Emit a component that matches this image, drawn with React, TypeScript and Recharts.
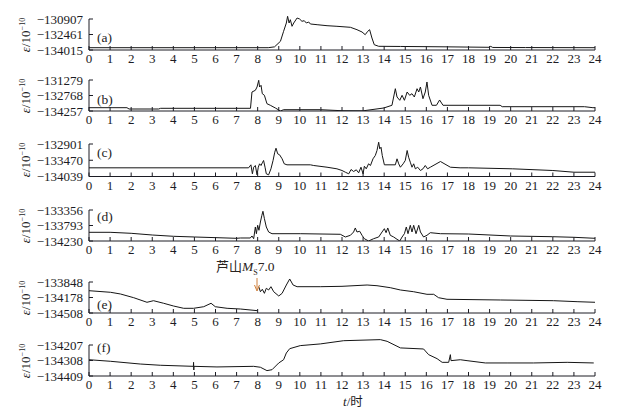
import { LineChart, Line, XAxis, YAxis, ReferenceLine } from "recharts";

const hours = Array.from({ length: 25 }, (_, i) => i);

// [hour, strain] pairs
const seriesA: [number, number][] = [
  [0, -133784], [8.5, -133784], [8.8, -133700], [9.08, -133143], [9.23, -132140],
  [9.36, -131308], [9.42, -130636], [9.49, -131308], [9.55, -130977], [9.63, -131639],
  [9.71, -131308], [9.87, -130807], [9.99, -130907], [10.1, -131138], [10.21, -131077],
  [10.31, -131308], [10.42, -131208], [10.5, -131408], [10.82, -131478], [11.29, -131579],
  [11.76, -131639], [12.4, -131739], [12.71, -131980], [12.95, -132210], [13.1, -132481],
  [13.22, -132140], [13.31, -131980], [13.42, -132812], [13.53, -133484], [13.74, -133644],
  [14.77, -133660], [16, -133680], [17, -133700], [19, -133744], [19.05, -133650],
  [19.15, -133760], [20.7, -133770], [24, -133784],
];

const seriesB: [number, number][] = [
  [0, -133940], [1.8, -133940], [1.9, -134065], [3.3, -134065], [3.4, -133998],
  [7.66, -133998], [7.73, -132432], [7.89, -132269], [7.97, -131952], [8.05, -131308],
  [8.09, -131952], [8.16, -131788], [8.22, -132595], [8.32, -132749], [8.44, -133556],
  [8.6, -133709], [8.84, -133969], [9.08, -134257], [9.23, -134132], [10.98, -134132],
  [12, -134230], [13, -134240], [13.98, -133969], [14.37, -133709], [14.53, -132115],
  [14.61, -132912], [14.74, -133229], [14.85, -132749], [14.96, -133229], [15.09, -132432],
  [15.21, -132749], [15.32, -132595], [15.43, -132912], [15.56, -132115], [15.64, -132432],
  [15.72, -131952], [15.84, -133075], [15.95, -132432], [16.03, -131471], [16.11, -132749],
  [16.27, -133709], [16.48, -133709], [16.63, -133200], [16.79, -133709], [19.5, -133709],
  [19.6, -133844], [23.5, -133844], [23.9, -133940], [24, -133940],
];

const seriesC: [number, number][] = [
  [0, -133735], [7.57, -133735], [7.68, -133630], [7.75, -133945], [7.81, -133714],
  [7.89, -133654], [7.97, -133980], [8.03, -133714], [8.09, -133595], [8.16, -133654],
  [8.22, -133560], [8.28, -133479], [8.35, -133714], [8.41, -133945], [8.52, -133980],
  [8.63, -133770], [8.73, -133479], [8.81, -133189], [8.87, -133049], [8.95, -133245],
  [9.04, -133280], [9.16, -133420], [9.26, -133595], [9.39, -133630], [10.5, -133630],
  [10.66, -133654], [11.29, -133714], [11.76, -133770], [12.0, -133829], [12.16, -133889],
  [12.32, -133945], [12.43, -133794], [12.55, -133864], [12.68, -133805], [12.79, -133910],
  [12.9, -133714], [13.0, -133945], [13.06, -133679], [13.15, -133770], [13.26, -133595],
  [13.35, -133654], [13.47, -133420], [13.58, -133304], [13.66, -133129], [13.74, -132839],
  [13.79, -133070], [13.85, -133014], [13.91, -133304], [14.01, -133630], [14.53, -133630],
  [14.61, -133420], [14.69, -133595], [14.77, -133714], [14.9, -133595], [15.0, -133479],
  [15.09, -133129], [15.16, -133364], [15.24, -133539], [15.32, -133714], [15.4, -133595],
  [15.48, -133770], [15.59, -133714], [15.72, -133829], [15.84, -133770], [15.95, -133654],
  [16.06, -133770], [16.19, -133714], [16.67, -133514], [17.14, -133714], [17.6, -133735],
  [18, -133735], [20.1, -133770], [22, -133829], [23, -133889], [24, -133889],
];

const seriesD: [number, number][] = [
  [0, -133985], [1, -133985], [2, -134013], [3, -134061], [4, -134097], [5, -134117],
  [7, -134154], [7.18, -134145], [7.65, -134145], [7.73, -134089], [7.81, -134165],
  [7.89, -133835], [7.94, -134024], [8.0, -133787], [8.06, -133928], [8.13, -133694],
  [8.2, -133505], [8.25, -133392], [8.32, -133601], [8.41, -133835], [8.52, -133976],
  [8.68, -134024], [10.02, -134024], [11.92, -134041], [12.16, -134117], [12.4, -134069],
  [12.55, -133976], [12.63, -133863], [12.71, -133976], [12.84, -133956], [12.95, -134069],
  [13.06, -134165], [13.26, -134230], [13.5, -134165], [13.74, -134117], [13.9, -133976],
  [14.01, -133883], [14.09, -133996], [14.17, -133863], [14.29, -134069], [14.45, -134117],
  [14.61, -134182], [14.74, -134230], [14.85, -134117], [14.96, -134024], [15.05, -133835],
  [15.13, -134024], [15.24, -133787], [15.32, -133976], [15.4, -133787], [15.51, -134024],
  [15.64, -133787], [15.72, -133976], [15.87, -134117], [16.03, -134069], [16.19, -133996],
  [16.67, -134024], [18, -134033], [20, -134089], [22, -134109], [23, -134126], [24, -134154],
];

const seriesE: [number, number | null][] = [
  [0, -134033], [1.02, -134067], [1.49, -134103], [2.12, -134182], [2.75, -134280],
  [3.06, -134246], [3.54, -134301], [4.01, -134359], [4.49, -134408], [4.96, -134408],
  [5.44, -134374], [5.79, -134301], [5.99, -134374], [6.55, -134408], [7.18, -134423],
  [8.0, -134459], [8.02, null], [8.05, -133948], [8.13, -134055], [8.22, -134003],
  [8.32, -134089], [8.41, -133982], [8.52, -134018], [8.63, -133948], [8.76, -134055],
  [9.0, -134146], [9.16, -134089], [9.36, -133912], [9.52, -133784], [9.68, -133912],
  [9.87, -133948], [10.97, -133948], [12, -133940], [13.19, -133912], [13.66, -133927],
  [14.29, -133969], [14.77, -134018], [15.4, -134055], [16.03, -134110], [16.35, -134110],
  [16.58, -134182], [16.98, -134216], [19.51, -134231], [22.04, -134246], [23.15, -134267],
  [24, -134280],
];

const seriesF: [number, number][] = [
  [0, -134303], [1.01, -134313], [2.43, -134331], [3.38, -134339], [4.95, -134346],
  [4.96, -134320], [4.97, -134370], [4.98, -134346], [6.07, -134350], [7.81, -134346],
  [8.13, -134352], [8.44, -134374], [8.68, -134368], [9.0, -134324], [9.23, -134303],
  [9.36, -134259], [9.52, -134231], [10.02, -134211], [10.97, -134200], [12.08, -134179],
  [13.82, -134172], [14.14, -134183], [14.77, -134226], [15.87, -134233], [16.11, -134270],
  [16.51, -134296], [16.75, -134320], [17.06, -134320], [17.14, -134270], [17.17, -134309],
  [17.61, -134303], [17.93, -134309], [18.8, -134324], [19.83, -134324], [21.09, -134324],
  [22.68, -134320], [23.94, -134324],
];

const ticksA = [-134015, -132461, -130907];
const ticksB = [-134257, -132768, -131279];
const ticksC = [-134039, -133470, -132901];
const ticksD = [-134230, -133793, -133356];
const ticksE = [-134508, -134178, -133848];
const ticksF = [-134409, -134308, -134207];

const panels = [
  { name: "(a)", series: seriesA, ticks: ticksA, topY: 19, span: 31, labelY: 38 },
  { name: "(b)", series: seriesB, ticks: ticksB, topY: 80, span: 31, labelY: 100 },
  { name: "(c)", series: seriesC, ticks: ticksC, topY: 143.5, span: 32.5, labelY: 153 },
  { name: "(d)", series: seriesD, ticks: ticksD, topY: 210, span: 31, labelY: 217 },
  { name: "(e)", series: seriesE, ticks: ticksE, topY: 282, span: 31, labelY: 305 },
  { name: "(f)", series: seriesF, ticks: ticksF, topY: 345, span: 31, labelY: 348 },
];

const SERIF = '"Liberation Serif", "DejaVu Serif", serif';
const INK = "#1c1c24";
const HEAD = 8;
const M_TOP = 2;

const fmt = (v: number) => "\u2212" + Math.abs(v);

function Panel({ p }: { p: (typeof panels)[number] }) {
  const [lo, , hi] = p.ticks;
  const domTop = hi + ((hi - lo) * HEAD) / p.span;
  const plotH = p.span + HEAD;
  const data = p.series.map(([t, v]) => ({ t, v }));
  return (
    <div style={{ position: "absolute", left: 0, top: p.topY - HEAD - M_TOP }}>
      <LineChart
        width={636}
        height={M_TOP + plotH + 24}
        data={data}
        margin={{ top: M_TOP, right: 41, bottom: 0, left: 0 }}
      >
        <XAxis
          dataKey="t"
          type="number"
          domain={[0, 24]}
          ticks={hours}
          interval={0}
          height={24}
          tickSize={-4}
          tickMargin={8}
          stroke={INK}
          tick={{ fill: INK, fontSize: 13, fontFamily: SERIF }}
        />
        <YAxis
          type="number"
          domain={[lo, domTop]}
          ticks={p.ticks}
          interval={0}
          width={89}
          allowDataOverflow
          axisLine={false}
          tickSize={-4}
          tickMargin={10}
          stroke={INK}
          tickFormatter={fmt}
          tick={{ fill: INK, fontSize: 13, fontFamily: SERIF }}
        />
        <ReferenceLine
          segment={[{ x: 0, y: lo }, { x: 0, y: hi }]}
          stroke={INK}
          strokeWidth={1}
        />
        <Line
          dataKey="v"
          type="linear"
          stroke="#151515"
          strokeWidth={1}
          dot={false}
          connectNulls={false}
          isAnimationActive={false}
        />
      </LineChart>
      <div
        style={{
          position: "absolute",
          left: 97,
          top: p.labelY - (p.topY - HEAD - M_TOP),
          transform: "translateY(-50%)",
          fontFamily: SERIF,
          fontSize: 13.5,
          color: INK,
        }}
      >
        {p.name}
      </div>
      <div
        style={{
          position: "absolute",
          left: 26,
          top: HEAD + M_TOP + p.span / 2,
          transform: "translate(-50%, -50%) rotate(-90deg)",
          whiteSpace: "nowrap",
          fontFamily: SERIF,
          fontSize: 13,
          color: INK,
        }}
      >
        <i>ε</i>/10<sup style={{ fontSize: 8 }}>−10</sup>
      </div>
    </div>
  );
}

export default function App() {
  return (
    <div style={{ position: "relative", width: 636, height: 409, background: "#fff", overflow: "hidden" }}>
      <style>{"body{margin:0}"}</style>
      {panels.map((p) => (
        <Panel key={p.name} p={p} />
      ))}
      <div
        style={{
          position: "absolute",
          left: 216,
          top: 268,
          transform: "translateY(-50%)",
          whiteSpace: "nowrap",
          fontFamily: SERIF,
          fontSize: 13.5,
          lineHeight: 1,
          color: "#2a2320",
        }}
      >
        <span style={{ fontFamily: '"Noto Sans CJK SC", sans-serif', fontSize: 13 }}>芦山</span>
        <i>M</i>
        <sub style={{ fontSize: 8 }}>S</sub>7.0
      </div>
      <svg style={{ position: "absolute", left: 0, top: 0 }} width={636} height={409}>
        <line x1={257} y1={278} x2={257} y2={289} stroke="#d0803c" strokeWidth={1} />
        <path d="M254.5,285 L257,291 L259.5,285" fill="none" stroke="#d0803c" strokeWidth={1} />
      </svg>
      <div
        style={{
          position: "absolute",
          left: 343,
          top: 401,
          transform: "translateY(-50%)",
          whiteSpace: "nowrap",
          fontFamily: SERIF,
          fontSize: 13,
          lineHeight: 1,
          color: INK,
        }}
      >
        <i>t</i>/<span style={{ fontFamily: '"Noto Sans CJK SC", sans-serif', fontSize: 12.5 }}>时</span>
      </div>
    </div>
  );
}
